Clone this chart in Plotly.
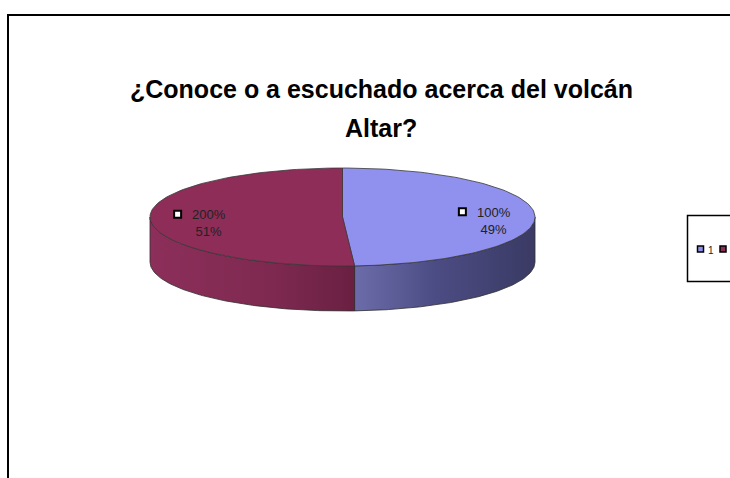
import numpy as np
import plotly.graph_objects as go

# ---- data ----
categories = ["100%", "200%"]
values = [49, 51]
legend_labels = ["1", "2"]
top_colors = ["#9090ee", "#8e2d58"]
side_scales = [
    [[0, "#6c6caa"], [0.45, "#4c4c84"], [1, "#3a3a64"]],
    [[0, "#8c2f5a"], [0.6, "#7e2950"], [1, "#6a2042"]],
]
title_lines = ["¿Conoce o a escuchado acerca del volcán", "Altar?"]

# ---- geometry (pixel space) ----
W, H = 730, 478
cx, cy, rx, ry, depth = 342.5, 217.0, 192.5, 49.0, 45.0


def arc(f0, f1, dy=0.0, n=120):
    t = np.linspace(f0, f1, n) * 2 * np.pi
    return cx + rx * np.sin(t), cy - ry * np.cos(t) + dy


fig = go.Figure()

total = sum(values)
fracs = np.cumsum([0] + values) / total

# side faces
for i in range(len(values)):
    a, b = max(fracs[i], 0.25), min(fracs[i + 1], 0.75)
    if b <= a:
        continue
    x1, y1 = arc(a, b)
    x2, y2 = arc(b, a, depth)
    xs = np.concatenate([x1, x2, x1[:1]])
    ys = np.concatenate([y1, y2, y1[:1]])
    fig.add_trace(go.Scatter(x=xs, y=ys, mode="lines", fill="toself",
                             fillgradient=dict(type="horizontal", colorscale=side_scales[i]),
                             line=dict(color="#2e2e2e", width=0.8),
                             hoverinfo="skip", showlegend=False))

# top faces
for i in range(len(values)):
    x1, y1 = arc(fracs[i], fracs[i + 1])
    xs = np.concatenate([[cx], x1, [cx]])
    ys = np.concatenate([[cy], y1, [cy]])
    fig.add_trace(go.Scatter(x=xs, y=ys, mode="lines", fill="toself",
                             fillcolor=top_colors[i],
                             line=dict(color="#3a3a3a", width=0.8),
                             hoverinfo="skip", showlegend=False))

# data labels
annotations = []
k = 0.74
key_x, key_y = [], []
for i in range(len(values)):
    mid = (fracs[i] + fracs[i + 1]) / 2 * 2 * np.pi
    lx = cx + k * rx * np.sin(mid)
    ly = cy - k * ry * np.cos(mid)
    pct = round(values[i] / total * 100)
    annotations.append(dict(x=lx + 9, y=ly + 5, xref="x", yref="y",
                            text=f"{categories[i]}<br>{pct}%", showarrow=False,
                            font=dict(family="Liberation Sans, Arial", size=13, color="#222222"),
                            align="center", xanchor="center", yanchor="middle"))
    key_x.append(lx - 22.5)
    key_y.append(ly - 4)

fig.add_trace(go.Scatter(x=key_x, y=key_y, mode="markers",
                         marker=dict(symbol="square", size=7, color="white",
                                     line=dict(color="black", width=2)),
                         hoverinfo="skip", showlegend=False))

# legend (manual, cut off by the right edge as in the original)
lg_x = [700.5 + 22.5 * i for i in range(len(values))]
lg_y = [249] * len(values)
fig.add_trace(go.Scatter(x=lg_x, y=lg_y, mode="markers",
                         marker=dict(symbol="square", size=6, color=top_colors,
                                     line=dict(color="black", width=1.5)),
                         hoverinfo="skip", showlegend=False))
for i, lab in enumerate(legend_labels):
    tx = lg_x[i] + 10.5
    if tx + 4 > W:
        continue  # falls outside the visible chart area
    annotations.append(dict(x=tx, y=250.5, xref="x", yref="y", text=lab,
                            showarrow=False, xanchor="center", yanchor="middle",
                            font=dict(family="Liberation Sans, Arial", size=10, color="#222222")))

# title
title_y = [89, 128]
for t, yy in zip(title_lines, title_y):
    annotations.append(dict(x=381, y=yy, xref="x", yref="y", text=f"<b>{t}</b>",
                            showarrow=False, xanchor="center", yanchor="middle",
                            font=dict(family="Liberation Sans, Arial", size=25, color="black")))

shapes = [
    dict(type="rect", xref="x", yref="y", x0=8, y0=15, x1=900, y1=700,
         line=dict(color="black", width=2), fillcolor="rgba(0,0,0,0)"),
    dict(type="rect", xref="x", yref="y", x0=687.5, y0=215.5, x1=800, y1=281.5,
         line=dict(color="black", width=1.5), fillcolor="rgba(0,0,0,0)"),
]

fig.update_layout(
    width=W, height=H, autosize=False,
    margin=dict(l=0, r=0, t=0, b=0),
    paper_bgcolor="white", plot_bgcolor="white",
    xaxis=dict(range=[0, W], visible=False, fixedrange=True),
    yaxis=dict(range=[H, 0], visible=False, fixedrange=True),
    annotations=annotations, shapes=shapes, showlegend=False,
)

fig.write_html("out.html", config={"displayModeBar": False},
               post_script="document.body.style.margin='0px';document.body.style.overflow='hidden';")
